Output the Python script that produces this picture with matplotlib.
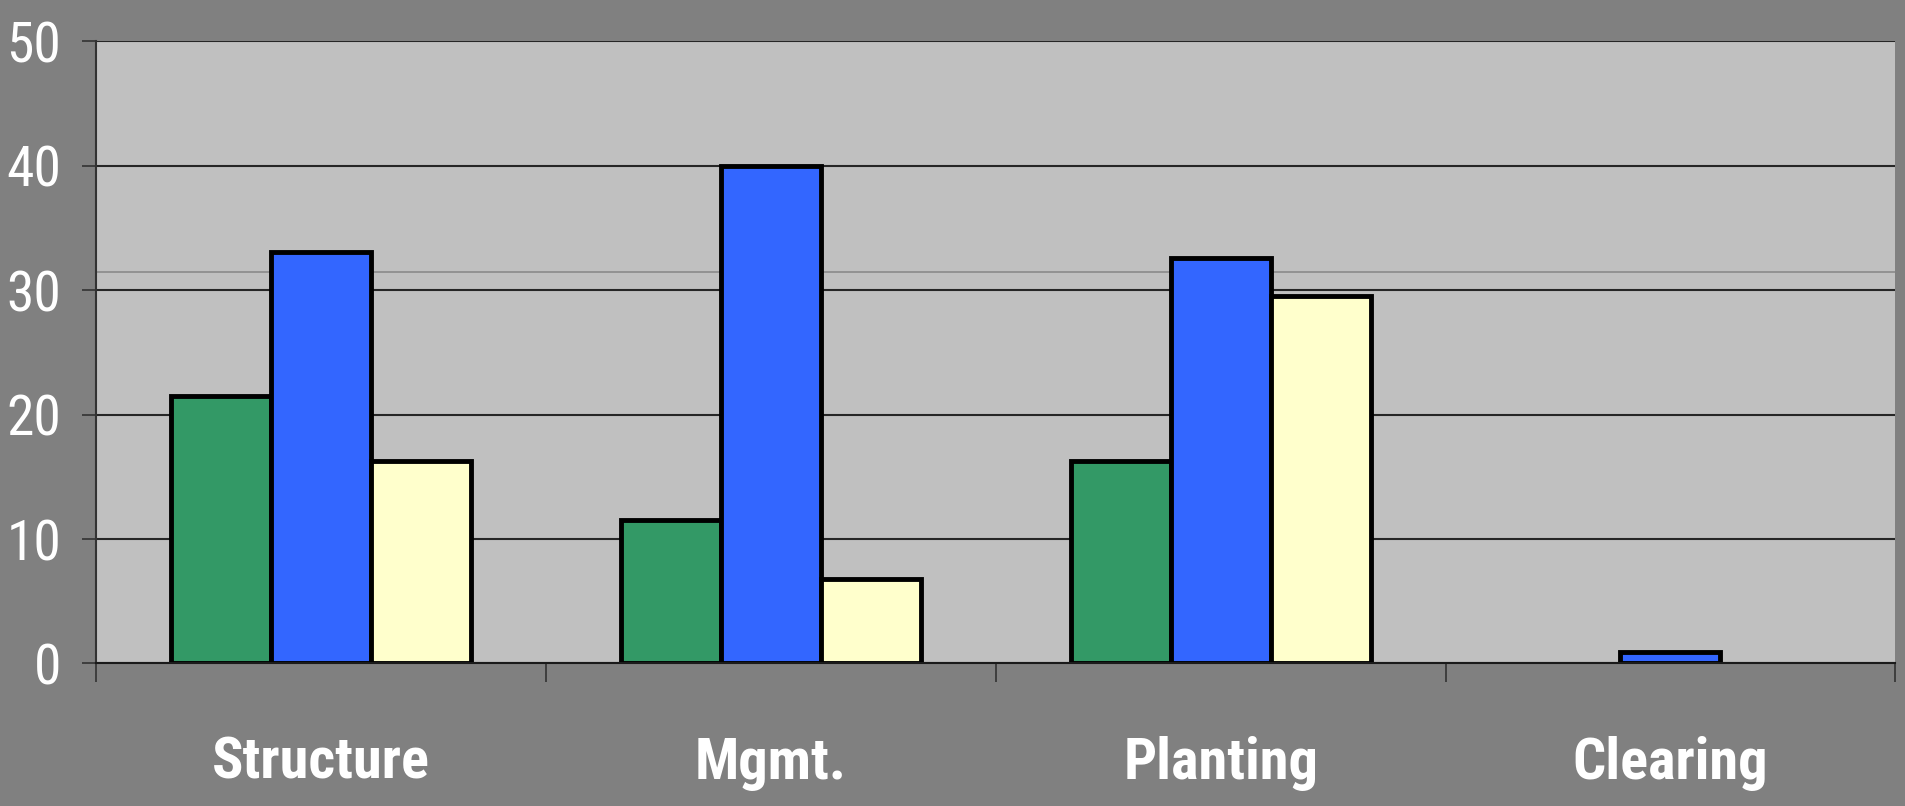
import matplotlib
matplotlib.use('Agg')
import matplotlib.pyplot as plt
import numpy as np

# ── DATA ─────────────────────────────────────────────────────────────────────
categories = ['Structure', 'Mgmt.', 'Planting', 'Clearing']
series_green  = [21.5, 11.5, 16.3, 0.0]
series_blue   = [33.1, 40.0, 32.6, 0.9]
series_yellow = [16.3, 6.8, 29.5, 0.0]
y_ticks = [0, 10, 20, 30, 40, 50]

# ── STYLE ────────────────────────────────────────────────────────────────────
fig_bg  = '#808080'
plot_bg = '#C0C0C0'
colors  = ['#339966', '#3366FF', '#FFFFCC']
fonts   = ['Roboto Condensed', 'DejaVu Sans']

fig = plt.figure(figsize=(19.06, 8.06), dpi=100, facecolor=fig_bg)
ax = fig.add_axes([0.0504, 0.1768, 0.944, 0.772])
ax.set_facecolor(plot_bg)

x = np.arange(len(categories))
w = 1 / 4.5   # excel gap width 150%
for j, (vals, c) in enumerate(zip([series_green, series_blue, series_yellow], colors)):
    pos = x + (j - 1) * w
    lw = [3.5 if v > 0 else 0 for v in vals]   # empty bars leave no outline
    ax.bar(pos, vals, width=w, color=c, edgecolor='black', linewidth=lw,
           zorder=3)

ax.set_xlim(-0.5, len(categories) - 0.5)
ax.set_ylim(0, 50)

# gridlines
ax.set_yticks(y_ticks)
ax.set_yticklabels([str(v) for v in y_ticks], color='white', fontsize=40,
                   family=fonts, fontstretch='condensed')
ax.yaxis.grid(True, color='#262626', linewidth=1.5)
ax.set_axisbelow(True)
# faint stray line seen in the original plot area
ax.axhline(31.45, color='#8a8a8a', linewidth=1.2, zorder=1)

# category ticks at boundaries, labels at centres
ax.set_xticks(np.arange(-0.5, len(categories)))
ax.set_xticklabels([])
ax.set_xticks(x, minor=True)
ax.set_xticklabels(categories, minor=True, color='white', fontsize=42,
                   fontweight='bold', family=fonts, fontstretch='condensed')
ax.tick_params(axis='x', which='major', direction='out', length=14,
               width=1.2, color='#333333')
ax.tick_params(axis='x', which='minor', length=0, pad=52)
ax.tick_params(axis='y', direction='out', length=10, width=1.2,
               color='#333333', pad=15)

for s in ['top', 'right']:
    ax.spines[s].set_visible(False)
ax.spines['left'].set_color('#333333')
ax.spines['left'].set_linewidth(1.5)
ax.spines['bottom'].set_color('#1a1a1a')
ax.spines['bottom'].set_linewidth(1.5)
ax.spines['bottom'].set_zorder(4)

fig.savefig('out.png', dpi=100, facecolor=fig_bg)
